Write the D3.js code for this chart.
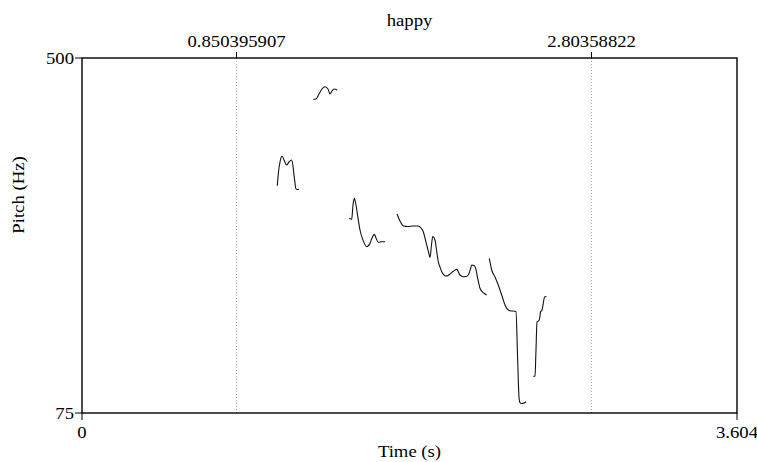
<!DOCTYPE html>
<html>
<head>
<meta charset="utf-8">
<script src="https://cdn.jsdelivr.net/npm/d3@7"></script>
<style>
  html, body { margin: 0; padding: 0; background: #fff; }
  svg { display: block; }
  text { font-family: "Liberation Serif", "Times New Roman", serif; fill: #000; }
</style>
</head>
<body>
<svg id="chart" width="757" height="462"></svg>
<script>
// Pitch contour of "happy": voiced stretches as time (s) / F0 (Hz) pairs
const seg1Time = [1.0746, 1.0812, 1.0895, 1.1005, 1.1115, 1.1252, 1.1390, 1.1527, 1.1610, 1.1665, 1.1720, 1.1758, 1.1830, 1.1940];
const seg1Hz   = [347.1, 363.5, 375.5, 382.7, 377.9, 371.9, 375.5, 377.9, 370.7, 359.9, 350.4, 344.0, 342.6, 342.8];

const seg2Time = [1.2727, 1.2875, 1.3040, 1.3206, 1.3371, 1.3536, 1.3646, 1.3756, 1.3866, 1.4047];
const seg2Hz   = [450.6, 450.9, 456.9, 462.9, 465.6, 462.9, 456.9, 460.5, 462.9, 461.7];

const seg3Time = [1.4708, 1.4840, 1.4911, 1.4983, 1.5076, 1.5186, 1.5296, 1.5461, 1.5665, 1.5847, 1.5957, 1.6083, 1.6177, 1.6303, 1.6490, 1.6672];
const seg3Hz   = [308.1, 306.9, 324.0, 332.0, 324.0, 308.5, 294.1, 282.1, 274.1, 278.2, 284.5, 288.9, 284.5, 279.4, 280.1, 280.1];

const seg4Time = [1.7332, 1.7497, 1.7679, 1.7937, 1.8213, 1.8504, 1.8653, 1.8779, 1.8873, 1.8967, 1.9065, 1.9148, 1.9230, 1.9297, 1.9423, 1.9506, 1.9605, 1.9698, 1.9792, 1.9918, 2.0028, 2.0138, 2.0248, 2.0414, 2.0617, 2.0799, 2.0980, 2.1129, 2.1255, 2.1376, 2.1442, 2.1569, 2.1624, 2.1707, 2.1750, 2.1816, 2.1899, 2.2081, 2.2268];
const seg4Hz   = [313.2, 304.9, 298.9, 298.3, 298.9, 298.9, 296.5, 292.0, 284.5, 276.1, 267.7, 261.2, 276.1, 286.3, 282.1, 270.1, 256.1, 249.8, 244.2, 240.2, 239.0, 239.6, 241.4, 244.4, 247.0, 240.2, 238.2, 238.4, 240.2, 247.4, 252.2, 251.6, 250.1, 243.8, 238.2, 231.8, 224.3, 219.0, 216.3];

const seg5Time = [2.2411, 2.2543, 2.2725, 2.2862, 2.3000, 2.3137, 2.3275, 2.3456, 2.3605, 2.3731, 2.3880, 2.3963, 2.4045, 2.4062, 2.4100, 2.4183, 2.4282, 2.4430];
const seg5Hz   = [260.2, 246.2, 237.8, 230.6, 222.3, 213.3, 204.3, 198.3, 197.1, 197.1, 196.3, 144.4, 94.2, 90.6, 87.3, 86.4, 86.6, 88.5];

const seg6Time = [2.4832, 2.4925, 2.4980, 2.5035, 2.5146, 2.5201, 2.5228, 2.5311, 2.5393, 2.5448, 2.5558];
const seg6Hz   = [118.7, 119.3, 150.4, 183.9, 185.7, 191.1, 195.9, 198.3, 207.9, 213.9, 214.5];

const segments = [
  [seg1Time, seg1Hz], [seg2Time, seg2Hz], [seg3Time, seg3Hz],
  [seg4Time, seg4Hz], [seg5Time, seg5Hz], [seg6Time, seg6Hz]
];

// Axis ranges and marked times
const timeDomain = [0, 3.604];
const pitchDomain = [75, 500];
const markTimes = [0.850395907, 2.80358822];
const markLabels = ["0.850395907", "2.80358822"];
const pitchTickLabels = ["75", "500"];
const timeTickLabels = ["0", "3.604"];
const title = "happy";

const svg = d3.select("#chart");
const plotLeft = 82, plotRight = 737, plotTop = 58, plotBottom = 413;

const x = d3.scaleLinear().domain(timeDomain).range([plotLeft, plotRight]);
const y = d3.scaleLinear().domain(pitchDomain).range([plotBottom, plotTop]);

const FS = 17;
// Text drawn slightly widened horizontally
function label(px, py, str, anchor, rotate) {
  const g = svg.append("g").attr("transform",
    `translate(${px},${py})` + (rotate ? ` rotate(${rotate})` : "") + " scale(1.1,1)");
  g.append("text")
    .attr("text-anchor", anchor)
    .attr("font-size", FS)
    .text(str);
}

// Dotted marker lines
markTimes.forEach(t => {
  svg.append("line")
    .attr("x1", x(t)).attr("x2", x(t))
    .attr("y1", plotTop).attr("y2", plotBottom)
    .attr("stroke", "#888").attr("stroke-width", 0.8)
    .attr("stroke-dasharray", "1,2");
  svg.append("line")
    .attr("x1", x(t)).attr("x2", x(t))
    .attr("y1", plotTop).attr("y2", plotTop - 6)
    .attr("stroke", "#000").attr("stroke-width", 1);
});

// Pitch contour
const line = d3.line()
  .x(d => x(d[0]))
  .y(d => y(d[1]))
  .curve(d3.curveMonotoneX);

segments.forEach(([ts, fs]) => {
  const pts = ts.map((t, i) => [t, fs[i]]);
  svg.append("path")
    .attr("d", line(pts))
    .attr("fill", "none")
    .attr("stroke", "#111")
    .attr("stroke-width", 1.1)
    .attr("stroke-linejoin", "round");
});

// Frame
svg.append("rect")
  .attr("x", plotLeft).attr("y", plotTop)
  .attr("width", plotRight - plotLeft).attr("height", plotBottom - plotTop)
  .attr("fill", "none").attr("stroke", "#000").attr("stroke-width", 1.4);

// Pitch ticks (outward to the left)
pitchDomain.forEach((v, i) => {
  svg.append("line")
    .attr("x1", plotLeft - 7).attr("x2", plotLeft)
    .attr("y1", y(v)).attr("y2", y(v))
    .attr("stroke", "#000").attr("stroke-width", 1);
  label(plotLeft - 8, y(v) + 6, pitchTickLabels[i], "end");
});

// Time ticks (outward downward)
timeDomain.forEach((v, i) => {
  svg.append("line")
    .attr("x1", x(v)).attr("x2", x(v))
    .attr("y1", plotBottom).attr("y2", plotBottom + 7)
    .attr("stroke", "#000").attr("stroke-width", 1);
  label(x(v), plotBottom + 25, timeTickLabels[i], "middle");
});

// Marker labels on top
markTimes.forEach((t, i) => label(x(t), plotTop - 11, markLabels[i], "middle"));

// Title and axis titles
label((plotLeft + plotRight) / 2, 26, title, "middle");
label((plotLeft + plotRight) / 2, 457, "Time (s)", "middle");
label(24, 195, "Pitch (Hz)", "middle", -90);
</script>
</body>
</html>
